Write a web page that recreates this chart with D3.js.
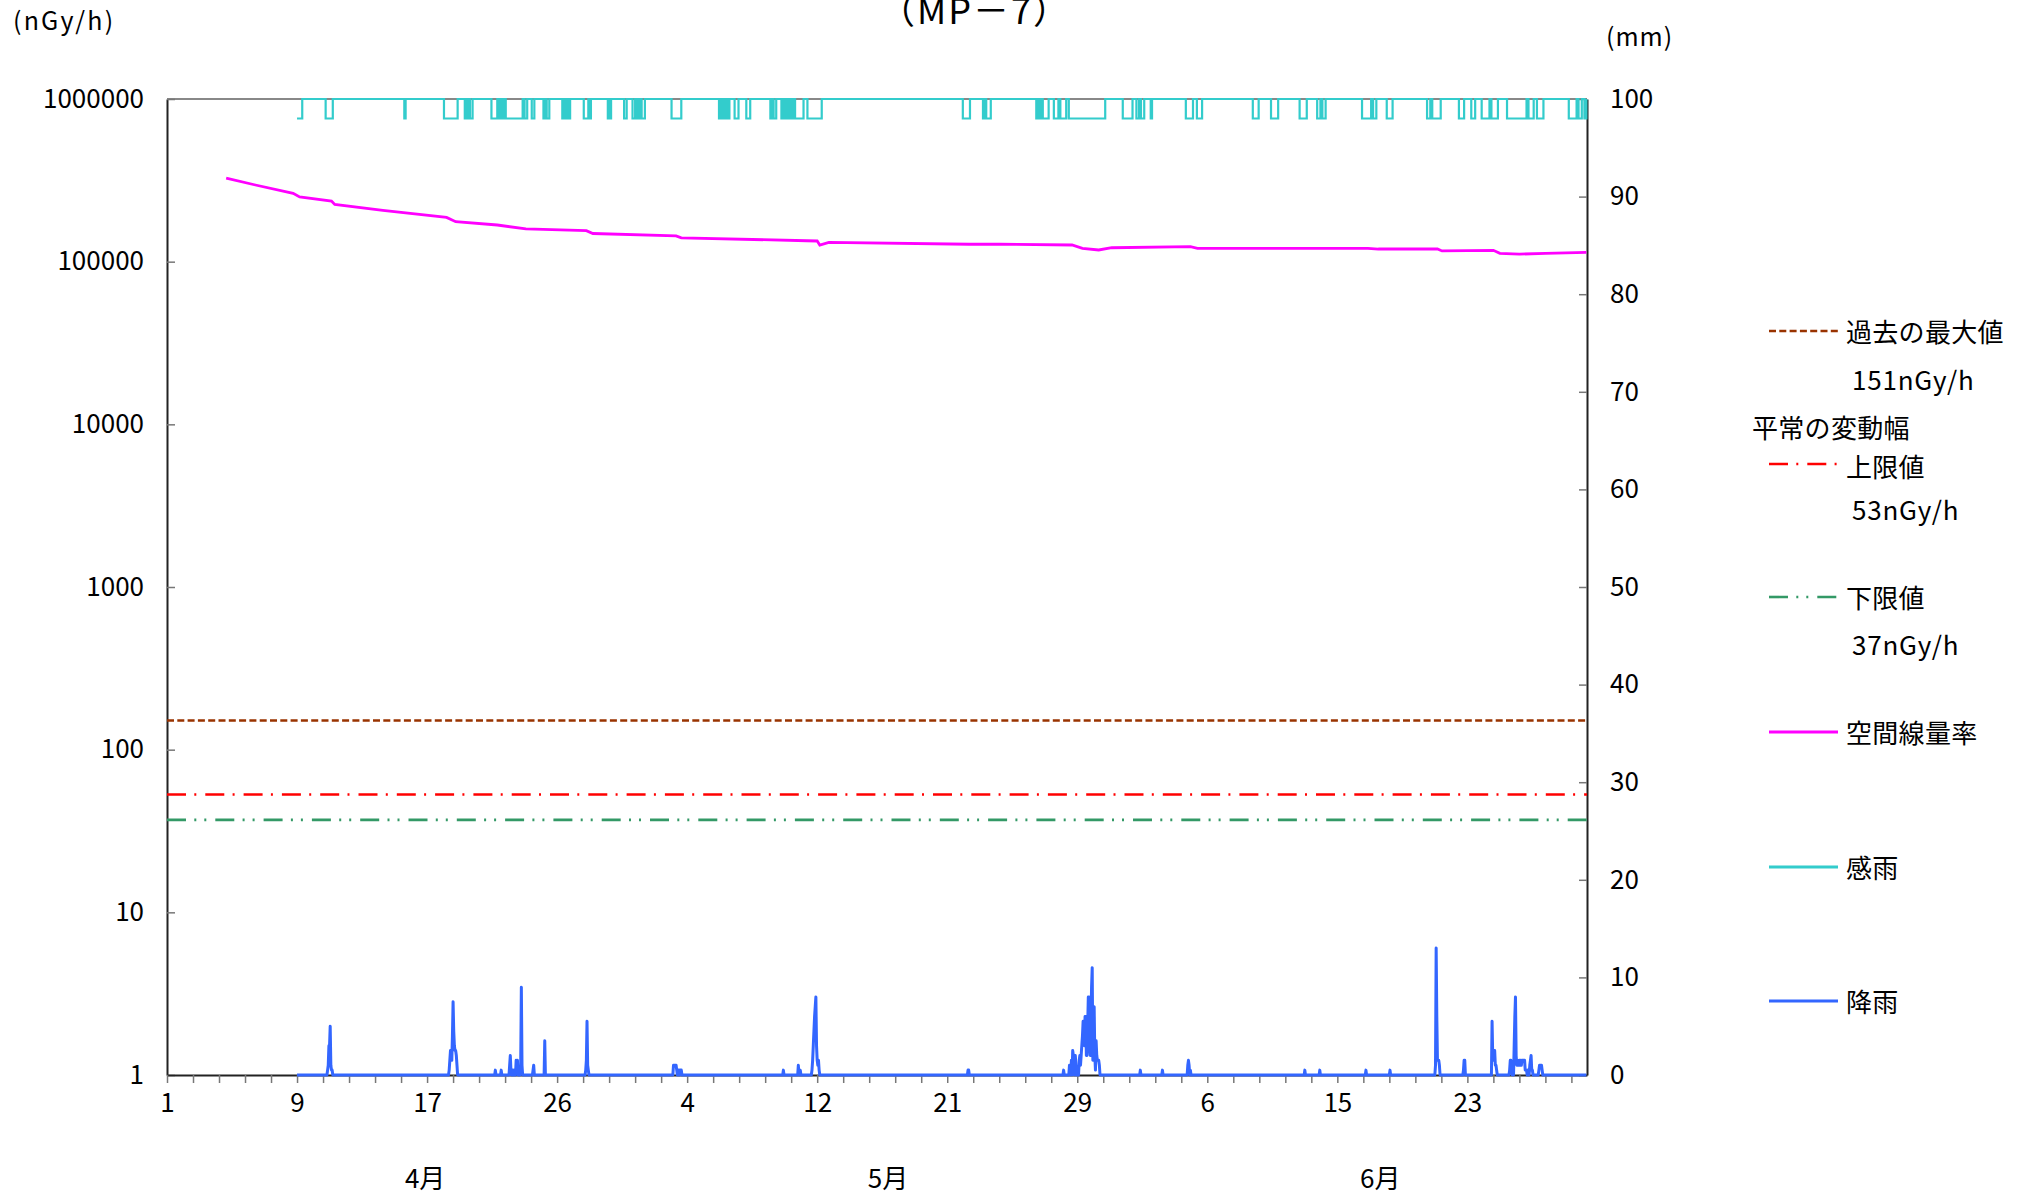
<!DOCTYPE html>
<html>
<head>
<meta charset="utf-8">
<script src="https://d3js.org/d3.v7.min.js"></script>
<style>
  html, body { margin: 0; padding: 0; background: #fff; }
  svg text { font-family: "Noto Sans CJK JP", "Noto Sans", sans-serif; fill: #000; }
</style>
</head>
<body>
<svg id="chart" width="2031" height="1196"></svg>
<script>
// ---------------- DATA ----------------
// x axis: hours since 1 April 00:00 (hourly data, Apr 1 – Jun 30)
const hourDomain = [0, 2184];
const xTickStep = 40;               // hours between tick marks
const xLabelStep = 200;             // hours between tick labels
const xTickLabels = ["1", "9", "17", "26", "4", "12", "21", "29", "6", "15", "23"];
const monthLabels = ["4月", "5月", "6月"];
const monthLabelHours = [397, 1109, 1866];

const leftTicks = [1, 10, 100, 1000, 10000, 100000, 1000000];
const rightTicks = [0, 10, 20, 30, 40, 50, 60, 70, 80, 90, 100];

// 空間線量率 (nGy/h) : [hour, value]
const doseHours  = [91, 136, 194, 204, 253, 258, 332, 430, 444, 508, 552, 645, 655, 783, 791, 984, 1000, 1004, 1018, 1234, 1281, 1392, 1408, 1433, 1453, 1574, 1585, 1847, 1863, 1954, 1961, 2040, 2050, 2080, 2120, 2183];
const doseValues = [326000, 296000, 263000, 250000, 236000, 225000, 207000, 187000, 176000, 168000, 159000, 155000, 149000, 144000, 140000, 134500, 134000, 126600, 131500, 128000, 128000, 126600, 120800, 118000, 121800, 123700, 120800, 120800, 119600, 119600, 116400, 117400, 112600, 111200, 112600, 114000];

// reference levels (nGy/h)
const maxPast = 151;
const upperLimit = 53;
const lowerLimit = 37;

// 降雨 (mm/h): data from hour 200 to 2183, nonzero hours listed
const rainStart = 200, rainEnd = 2183;
const rainEvents = [
  [247,0.5],[248,1.0],[249,3.0],[250,3.0],[251,5.0],[252,1.0],[253,0.5],[254,0.5],
  [434,0.5],[435,1.5],[436,2.5],[437,2.5],[438,1.5],[439,4.0],[440,7.5],[441,4.5],[442,3.0],[443,2.5],[444,2.5],[445,2.0],[446,1.0],
  [505,0.5],[514,0.5],
  [527,1.0],[528,2.0],[529,0.5],[532,0.5],[534,0.5],[537,1.5],[538,0.5],[539,1.5],[541,0.5],[544,1.0],[545,9.0],[546,1.0],
  [563,0.5],[564,1.0],
  [581,3.5],
  [644,0.5],[645,1.5],[646,5.5],[647,1.0],[648,0.5],
  [779,1.0],[780,1.0],[781,1.0],[782,1.0],[783,1.0],[784,0.5],[786,0.5],[787,0.5],[789,0.5],[790,0.5],[791,0.5],
  [948,0.5],
  [971,1.0],[974,0.5],
  [992,0.5],[993,1.5],[994,3.0],[995,4.5],[996,6.0],[997,7.0],[998,8.0],[999,3.0],[1000,1.5],[1001,1.0],[1002,1.5],[1003,0.5],
  [1232,0.5],[1233,0.5],
  [1379,0.5],[1388,1.0],[1389,1.0],[1391,1.5],[1393,2.5],[1394,2.0],[1395,1.5],[1397,2.0],[1398,1.0],[1400,0.5],[1401,0.5],
  [1403,1.5],[1404,2.0],[1405,1.0],[1406,2.0],[1407,3.0],[1408,4.0],[1409,5.5],[1410,5.5],[1411,3.0],[1412,6.0],[1413,6.0],
  [1414,2.0],[1415,2.0],[1416,5.0],[1417,8.0],[1418,8.0],[1419,3.0],[1420,2.0],[1421,5.0],[1422,9.0],[1423,11.0],[1424,1.5],
  [1425,5.0],[1426,7.0],[1427,2.0],[1428,0.5],[1429,3.5],[1430,2.0],[1431,1.5],[1432,1.5],[1433,1.5],[1434,1.0],
  [1497,0.5],[1531,0.5],[1570,1.0],[1571,1.5],[1572,1.0],[1574,0.5],
  [1750,0.5],[1773,0.5],[1844,0.5],[1881,0.5],
  [1951,1.0],[1952,13.0],[1953,6.0],[1954,1.5],[1955,1.5],[1956,1.5],[1957,1.0],
  [1994,0.5],[1995,1.5],[1996,1.5],
  [2038,5.5],[2039,2.0],[2040,1.5],[2041,2.5],[2042,2.5],[2043,1.0],[2044,1.0],[2045,0.5],
  [2065,0.5],[2066,1.5],[2067,1.5],[2068,1.0],[2070,1.0],[2072,3.0],[2073,6.0],[2074,8.0],[2075,2.0],[2076,1.0],[2077,1.5],
  [2078,1.0],[2079,1.0],[2080,1.5],[2081,1.0],[2082,1.5],[2083,1.0],[2084,1.5],[2085,1.5],[2086,1.5],[2087,1.5],[2088,1.5],
  [2089,0.5],[2090,0.5],[2091,0.5],[2093,0.5],[2096,1.0],[2097,1.5],[2098,2.0],[2099,0.5],[2100,0.5],
  [2110,0.5],[2111,1.0],[2112,1.0],[2113,1.0],[2114,1.0],[2115,0.5]
];

// 感雨 : hour intervals where rain was sensed (plotted on right axis)
const kanuOff = 100, kanuOn = 98;
const kanuIntervals = [
  [200,208],[244,255],[365,367],[426,447],[458,461],[463,464],[466,470],[499,508],[510,512],[514,516],[518,519],
  [521,547],[550,554],[561,565],[579,582],[584,588],[608,611],[613,616],[618,620],[641,648],[650,652],[678,680],
  [682,683],[703,707],[716,720],[722,724],[725,727],[730,735],[776,791],[849,852],[854,857],[859,862],[864,865],
  [873,879],[891,897],[928,931],[933,937],[945,948],[950,953],[955,958],[961,964],[966,979],[985,1007],
  [1224,1235],[1255,1258],[1260,1267],[1337,1339],[1342,1344],[1347,1356],[1364,1371],[1374,1383],[1387,1443],
  [1470,1485],[1491,1495],[1498,1503],[1513,1515],[1567,1578],[1584,1592],[1670,1679],[1698,1709],[1742,1753],
  [1769,1774],[1777,1782],[1838,1852],[1855,1860],[1876,1885],[1938,1943],[1946,1959],[1987,1995],[2006,2012],
  [2022,2034],[2037,2047],[2061,2091],[2094,2102],[2107,2117],[2156,2168],[2171,2176],[2180,2183]
];

// ---------------- LAYOUT ----------------
const L = 167, R = 1587, T = 99, B = 1075;
const svg = d3.select("#chart");

const x = d3.scaleLinear().domain(hourDomain).range([L, R]);
const yL = d3.scaleLog().domain([1, 1e6]).range([B, T]);
const yR = d3.scaleLinear().domain([0, 100]).range([B, T]);

const COLORS = {
  max: "#993300", upper: "#FF0000", lower: "#339966",
  dose: "#FF00FF", kanu: "#33CCCC", rain: "#3366FF"
};
const DASH = { max: "7,3.3", upper: "19,8.3,2,9", lower: "19,8.3,2,8,2,9" };

// top border
svg.append("line").attr("x1", L).attr("x2", R).attr("y1", T).attr("y2", T)
  .attr("stroke", "#888").attr("stroke-width", 2);

// axes
const fs = 26;
const gL = svg.append("g").attr("transform", `translate(${L},0)`)
  .call(d3.axisLeft(yL).tickValues(leftTicks).tickFormat(d3.format("d")).tickSizeInner(-8).tickSizeOuter(0).tickPadding(23));
const gR = svg.append("g").attr("transform", `translate(${R},0)`)
  .call(d3.axisRight(yR).tickValues(rightTicks).tickFormat(d3.format("d")).tickSizeInner(-8).tickSizeOuter(0).tickPadding(23));
const xTicks = d3.range(0, hourDomain[1], xTickStep);
const gB = svg.append("g").attr("transform", `translate(0,${B})`)
  .call(d3.axisBottom(x).tickValues(xTicks)
    .tickFormat(d => (d % xLabelStep === 0 ? xTickLabels[d / xLabelStep] : ""))
    .tickSizeInner(8).tickSizeOuter(0).tickPadding(11));

[gL, gR, gB].forEach(g => {
  g.selectAll("text").style("font-size", fs + "px").attr("fill", "#000");
  g.selectAll(".tick line").attr("stroke", "#777").attr("stroke-width", 1.5);
  g.select(".domain").attr("stroke", "#222").attr("stroke-width", 2);
});

// month labels
svg.append("g").selectAll("text").data(monthLabels).join("text")
  .attr("x", (d, i) => x(monthLabelHours[i])).attr("y", 1188)
  .attr("text-anchor", "middle").style("font-size", "26px").text(d => d);

// axis unit labels and title
svg.append("text").attr("x", 13).attr("y", 30).style("font-size", "25px").style("letter-spacing", "2.2px").text("(nGy/h)");
svg.append("text").attr("x", 1606).attr("y", 46).style("font-size", "25px").style("letter-spacing", "1px").text("(mm)");
svg.append("text").attr("x", 975).attr("y", 24).attr("text-anchor", "middle").style("font-size", "36px").style("letter-spacing", "2px").text("（MP－7）");

// reference lines
const refs = [[maxPast, "max"], [upperLimit, "upper"], [lowerLimit, "lower"]];
svg.append("g").selectAll("line").data(refs).join("line")
  .attr("x1", L).attr("x2", R)
  .attr("y1", d => yL(d[0])).attr("y2", d => yL(d[0]))
  .attr("stroke", d => COLORS[d[1]]).attr("stroke-width", 2.6)
  .attr("stroke-dasharray", d => DASH[d[1]]);

// rain series (hourly)
const rainMap = new Map(rainEvents);
const rainSeries = d3.range(rainStart, rainEnd + 1).map(h => [h, rainMap.get(h) || 0]);
svg.append("path").datum(rainSeries)
  .attr("fill", "none").attr("stroke", COLORS.rain).attr("stroke-width", 3).attr("stroke-linejoin", "round")
  .attr("d", d3.line().x(d => x(d[0])).y(d => yR(d[1])));

// 感雨 series (hourly, step)
const kanuSeries = d3.range(rainStart, rainEnd + 1).map(h => [h,
  kanuIntervals.some(iv => h >= iv[0] && h < iv[1]) ? kanuOn : kanuOff]);
svg.append("path").datum(kanuSeries)
  .attr("fill", "none").attr("stroke", COLORS.kanu).attr("stroke-width", 2.2)
  .attr("d", d3.line().curve(d3.curveStepAfter).x(d => x(d[0])).y(d => yR(d[1])));

// dose rate series
const doseSeries = doseHours.map((h, i) => [h, doseValues[i]]);
svg.append("path").datum(doseSeries)
  .attr("fill", "none").attr("stroke", COLORS.dose).attr("stroke-width", 2.8)
  .attr("d", d3.line().x(d => x(d[0])).y(d => yL(d[1])));

// ---------------- LEGEND ----------------
const lg = svg.append("g");
const legendLines = [
  { key: "max", y: 331 }, { key: "upper", y: 464 }, { key: "lower", y: 597 },
  { key: "dose", y: 732 }, { key: "kanu", y: 867 }, { key: "rain", y: 1001 }
];
lg.selectAll("line").data(legendLines).join("line")
  .attr("x1", 1769).attr("x2", 1838).attr("y1", d => d.y).attr("y2", d => d.y)
  .attr("stroke", d => COLORS[d.key]).attr("stroke-width", d => (d.key === "kanu" || d.key === "rain" || d.key === "dose") ? 3 : 2.6)
  .attr("stroke-dasharray", d => DASH[d.key] || null);

const legendTexts = [
  { t: "過去の最大値", x: 1846, y: 332 },
  { t: "151nGy/h", x: 1852, y: 380 },
  { t: "平常の変動幅", x: 1752, y: 428 },
  { t: "上限値", x: 1846, y: 467 },
  { t: "53nGy/h", x: 1852, y: 510 },
  { t: "下限値", x: 1846, y: 598 },
  { t: "37nGy/h", x: 1852, y: 645 },
  { t: "空間線量率", x: 1846, y: 733 },
  { t: "感雨", x: 1846, y: 868 },
  { t: "降雨", x: 1846, y: 1002 }
];
lg.selectAll("text").data(legendTexts).join("text")
  .attr("x", d => d.x).attr("y", d => d.y + 9.5)
  .style("font-size", "26px").style("letter-spacing", d => /nGy/.test(d.t) ? "0.8px" : "0.3px").text(d => d.t);
</script>
</body>
</html>
